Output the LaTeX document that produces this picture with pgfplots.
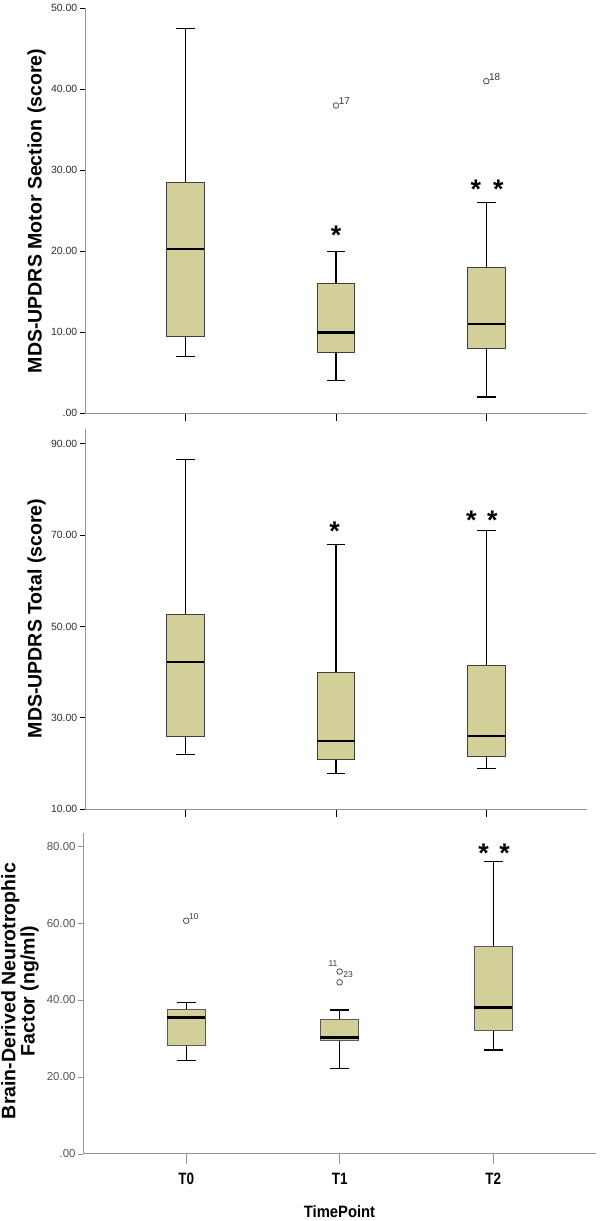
\documentclass[border=0pt]{standalone}
\usepackage{pgfplots}
\pgfplotsset{compat=1.18}
\usepgfplotslibrary{statistics}
\usepackage{fontspec}
\setmainfont{Liberation Sans}
\definecolor{boxfill}{RGB}{211,207,153}
\definecolor{axgray}{RGB}{150,150,150}
\definecolor{ticklab}{RGB}{45,45,45}
\definecolor{ticklabC}{RGB}{85,85,85}

\pgfplotsset{
  spssbox/.style={
    boxplot/draw direction=y,
    boxplot/box extend=0.25,
    boxplot/whisker extend=0.125,
    boxplot/every box/.style={draw=black!75, fill=boxfill, line width=0.9bp},
    boxplot/every whisker/.style={black, line width=1.2bp},
    boxplot/every median/.style={black, line width=2.6bp},
  },
  base/.style={
    scale only axis,
    xmin=-0.67, xmax=2.67,
    axis x line=bottom, axis y line=left,
    axis line style={-, axgray, line width=1bp},
    tick align=outside,
    xtick={0,1,2},
    ytick style={black, line width=0.9bp, /pgfplots/major tick length=5bp},
    xtick style={black, line width=0.9bp, /pgfplots/major tick length=8bp},
    yticklabel style={font=\fontsize{10.5}{12}\selectfont, text=ticklab},
    clip=false,
  },
  outl/.style={only marks, mark=o, mark size=2.8bp, mark options={draw=black!70, line width=0.8bp},
    nodes near coords, point meta=explicit symbolic,
    every node near coord/.append style={anchor=south west, inner sep=0.5bp, xshift=2bp, yshift=0bp, text=black!80}},
  stars/.style={only marks, mark=text, text mark={\raisebox{-15.5bp}[0pt][0pt]{\bfseries\fontsize{27}{27}\selectfont *}}},
}

\begin{document}
\begin{tikzpicture}
\useasboundingbox (0,0) rectangle (600bp,1221bp);

% ---------- Panel 1 ----------
\begin{axis}[base, at={(85bp,807.7bp)}, anchor=south west,
  width=502bp, height=405bp,
  ymin=0, ymax=50,
  ytick={0,10,20,30,40,50},
  yticklabels={.00,10.00,20.00,30.00,40.00,50.00},
  xticklabels={},
  every node near coord/.append style={font=\fontsize{10}{12}\selectfont}]
\addplot[spssbox, boxplot prepared={lower whisker=7.0, lower quartile=9.5, median=20.3, upper quartile=28.5, upper whisker=47.5, draw position=0}] coordinates {};
\addplot[spssbox, boxplot prepared={lower whisker=4.0, lower quartile=7.5, median=10.0, upper quartile=16.0, upper whisker=20.0, draw position=1}] coordinates {};
\addplot[spssbox, boxplot prepared={lower whisker=2.0, lower quartile=8.0, median=11.0, upper quartile=18.0, upper whisker=26.0, draw position=2}] coordinates {};
\addplot[outl] coordinates {(1,38.0) [17] (2,41.0) [18]};
\addplot[stars] coordinates {(1,22.8) (1.93,28.4) (2.08,28.4)};
\end{axis}

% ---------- Panel 2 ----------
\begin{axis}[base, at={(85bp,411.7bp)}, anchor=south west,
  width=502bp, height=380.3bp,
  ymin=10, ymax=93.2,
  ytick={10,30,50,70,90},
  yticklabels={10.00,30.00,50.00,70.00,90.00},
  xticklabels={}]
\addplot[spssbox, boxplot prepared={lower whisker=22.0, lower quartile=26.0, median=42.2, upper quartile=52.7, upper whisker=86.5, draw position=0}] coordinates {};
\addplot[spssbox, boxplot prepared={lower whisker=17.9, lower quartile=20.9, median=24.9, upper quartile=40.0, upper whisker=68.0, draw position=1}] coordinates {};
\addplot[spssbox, boxplot prepared={lower whisker=19.0, lower quartile=21.5, median=26.0, upper quartile=41.4, upper whisker=71.0, draw position=2}] coordinates {};
\addplot[stars] coordinates {(0.99,72.2) (1.90,74.5) (2.04,74.5)};
\end{axis}

% ---------- Panel 3 ----------
\begin{axis}[base, at={(83.3bp,67bp)}, anchor=south west,
  width=512.7bp, height=321bp,
  ymin=0, ymax=83.4,
  ytick={0,20,40,60,80},
  yticklabels={.00,20.00,40.00,60.00,80.00},
  xticklabels={\scalebox{0.82}[1]{T0},\scalebox{0.82}[1]{T1},\scalebox{0.82}[1]{T2}},
  ytick style={axgray, line width=0.9bp, /pgfplots/major tick length=5bp},
  xtick style={axgray, line width=0.9bp, /pgfplots/major tick length=10bp},
  yticklabel style={font=\fontsize{11.5}{13}\selectfont, text=ticklabC},
  xticklabel style={font=\bfseries\fontsize{16.5}{18}\selectfont, text=black, yshift=-11bp},
  every node near coord/.append style={font=\fontsize{8.5}{10}\selectfont}]
\addplot[spssbox, boxplot/every box/.style={draw=black!65, fill=boxfill, line width=0.9bp}, boxplot prepared={lower whisker=24.2, lower quartile=28.1, median=35.5, upper quartile=37.6, upper whisker=39.4, draw position=0}] coordinates {};
\addplot[spssbox, boxplot/every box/.style={draw=black!65, fill=boxfill, line width=0.9bp}, boxplot prepared={lower whisker=22.2, lower quartile=29.4, median=30.2, upper quartile=35.0, upper whisker=37.4, draw position=1}] coordinates {};
\addplot[spssbox, boxplot/every box/.style={draw=black!65, fill=boxfill, line width=0.9bp}, boxplot prepared={lower whisker=27.0, lower quartile=32.2, median=38.1, upper quartile=53.8, upper whisker=75.9, draw position=2}] coordinates {};
\addplot[outl] coordinates {(0,60.6) [10]};
\addplot[only marks, mark=o, mark size=2.8bp, mark options={draw=black!70, line width=0.8bp}] coordinates {(1,47.4) (1,44.6)};
\node[font=\fontsize{8.5}{10}\selectfont, text=black!80, anchor=east, inner sep=0.5bp] at (axis cs:0.99,49.5) {11};
\node[font=\fontsize{8.5}{10}\selectfont, text=black!80, anchor=west, inner sep=0.5bp] at (axis cs:1.02,46.7) {23};
\addplot[stars] coordinates {(1.937,79.8) (2.074,79.8)};
\end{axis}

% ---------- Axis titles ----------
\node[rotate=90, font=\bfseries\fontsize{19.6}{22}\selectfont] at (36.7bp,1010bp) {MDS-UPDRS Motor Section (score)};
\node[rotate=90, font=\bfseries\fontsize{19.6}{22}\selectfont] at (36.7bp,602.5bp) {MDS-UPDRS Total (score)};
\node[rotate=90, align=center, font=\bfseries\fontsize{19.6}{17.5}\selectfont] at (20bp,230bp) {Brain-Derived Neurotrophic\\Factor (ng/ml)};
\node[font=\bfseries\fontsize{16.5}{18}\selectfont] at (339.5bp,9.5bp) {\scalebox{0.9}[1]{TimePoint}};
\end{tikzpicture}
\end{document}
